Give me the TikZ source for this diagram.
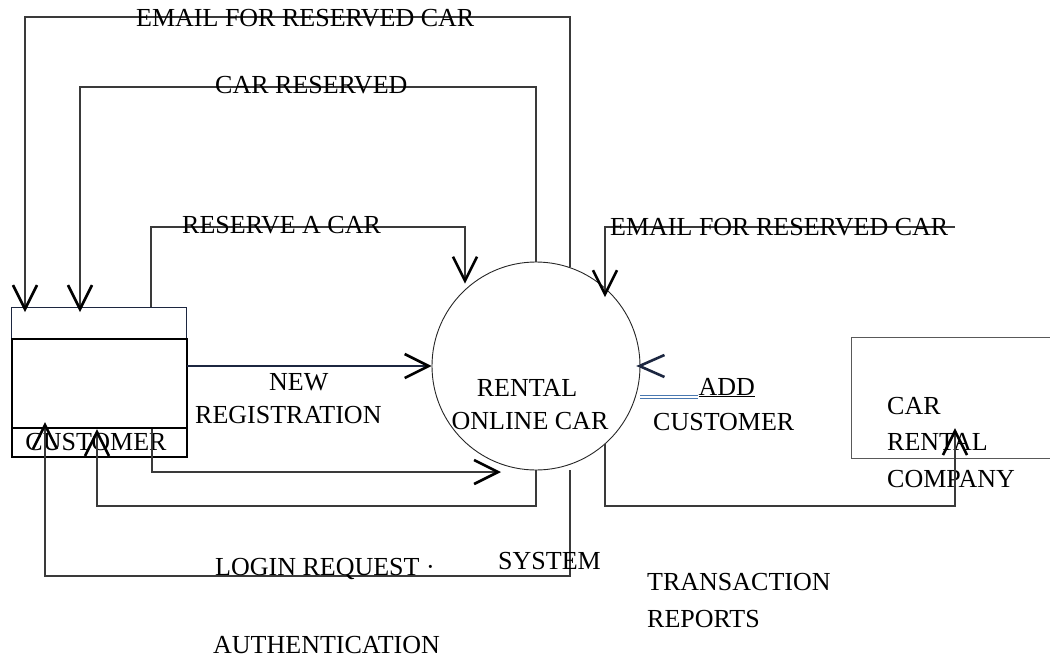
\documentclass[tikz,border=0pt]{standalone}
\usepackage{fontspec}
\setmainfont{Liberation Serif}
\usetikzlibrary{arrows.meta,calc}
\definecolor{linegrey}{HTML}{3A3A3A}
\definecolor{navy}{HTML}{1C2640}
\definecolor{steel}{HTML}{4A78B0}
\begin{document}
\begin{tikzpicture}[x=1pt,y=-1pt,
  conn/.style={draw=linegrey, line width=1.1pt},
  arr/.style={conn, -{Straight Barb[length=24pt,width=24pt,line width=2.6pt,color=black]}},
  headv/.style={draw=navy, line width=2.6pt},
  lbl/.style={inner sep=0pt, anchor=base west, font=\fontsize{26}{31}\selectfont},
  box/.style={inner sep=0pt, anchor=north west}]
\useasboundingbox (0,0) rectangle (1050,659);

% Customer store
\node[box, draw=navy, line width=1.2pt, minimum width=175pt, minimum height=149pt] (cust) at (11,307) {};
\node[box, draw=black, line width=2pt, minimum width=175pt, minimum height=89pt] (custmain) at (11,338) {};
\node[box, draw=black, line width=2pt, minimum width=175pt, minimum height=29pt] (custband) at (11,427) {};
\node[lbl, anchor=base] (custtxt) at (96,450) {CUSTOMER};

% Process
\node[draw=black!85, line width=0.9pt, circle, minimum size=208pt, inner sep=0pt] (sys) at (536,366) {};
\node[lbl, anchor=base] (sys1) at (527,396) {RENTAL};
\node[lbl, anchor=base] (sys2) at (530,429) {ONLINE CAR};

% Company
\node[box, draw=black!65, line width=1.1pt, minimum width=230pt, minimum height=121pt] (comp) at (851,337) {};
\node[lbl] (comp1) at (887,414) {CAR};
\node[lbl] (comp2) at (887,450) {RENTAL};
\node[lbl] (comp3) at (887,487) {COMPANY};

% elbow coordinates
\coordinate (t1) at (25,17);
\coordinate (t2) at (80,87);
\coordinate (r1) at (151,227);
\coordinate (r2) at (465,227);
\coordinate (e2) at (955,227);
\coordinate (e2l) at (605,227);
\coordinate (n1) at (152,472);
\coordinate (n2) at (501,472);
\coordinate (b1) at (97,506);
\coordinate (b2) at (45,576);
\coordinate (b2r) at (570,576);
\coordinate (c1) at (605,506);
\coordinate (c2) at (955,506);

% connectors
\draw[arr] (sys.71) |- (t1) -- ($(cust.north -| t1)+(0,5)$);
\draw[arr] (sys.north) |- (t2) -- ($(cust.north -| t2)+(0,5)$);
\draw[arr] (cust.north -| r1) -- (r1) -- (r2) -- ($(sys.133 -| r2)+(0,-6)$);
\draw[arr] (e2) -- (e2l) -- ($(sys.45 -| e2l)+(0,5)$);
\draw[arr, draw=navy, line width=1.6pt] (sys.west -| cust.east) -- (sys.west);
\draw[arr] (custmain.south -| n1) -- (n1) -- (n2);
\draw[arr] (sys.south) |- (b1) -- (custmain.south -| b1);
\draw[arr] (sys.south -| b2r) -- (b2r) -- (b2) -- ($(custmain.south -| b2)+(0,-7)$);
\draw[arr] (sys.-48 -| c1) -- (c1) -- (c2) -- ($(comp.south -| c2)+(0,-31)$);

% loose arrow head at the right of the process
\draw[headv] ($(sys.east)+(24,-11)$) -- ($(sys.east)+(-1,0)$) -- ($(sys.east)+(24,11)$);
% double line to ADD
\draw[draw=steel, double=white, double distance=2pt, line width=0.7pt] ($(sys.east)+(0,31)$) -- ++(58,0) coordinate (addend);

% labels
\node[lbl] (l1) at (136,26) {EMAIL FOR RESERVED CAR};
\node[lbl] (l2) at (215,93) {CAR RESERVED};
\node[lbl] (l3) at (182,233) {RESERVE A CAR};
\node[lbl] (l4) at (610,235) {EMAIL FOR RESERVED CAR};
\node[lbl] (l5) at (269,390) {NEW};
\node[lbl] (l6) at (195,423) {REGISTRATION};
\node[lbl] (l7) at (addend |- 0,395) {\underline{ADD}};
\node[lbl] (l8) at (653,430) {CUSTOMER};
\node[lbl] (l9) at (215,575) {LOGIN REQUEST ·};
\node[lbl] (l10) at (498,569) {SYSTEM};
\node[lbl] (l11) at (647,590) {TRANSACTION};
\node[lbl] (l12) at (647,627) {REPORTS};
\node[lbl] (l13) at (213,653) {AUTHENTICATION};
\end{tikzpicture}
\end{document}
